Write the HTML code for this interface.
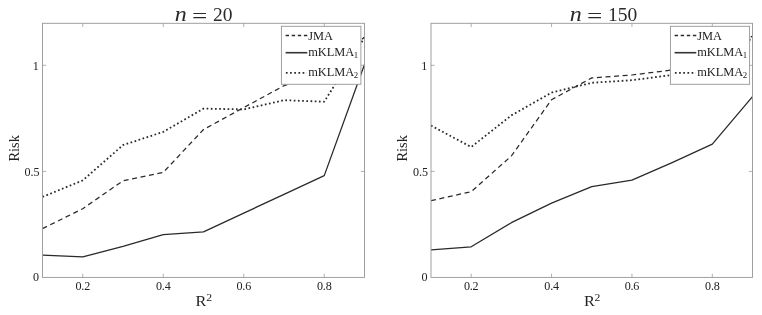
<!DOCTYPE html>
<html lang="en"><head><meta charset="utf-8"><title>Risk vs R2</title>
<style>html,body{margin:0;padding:0;background:#fff}svg{display:block}</style></head>
<body>
<svg width="762" height="315" viewBox="0 0 762 315" font-family="'Liberation Serif', serif" fill="#222">
<rect width="762" height="315" fill="#fff"/>
<clipPath id="c20"><rect x="42.5" y="23.3" width="322.0" height="254.09999999999997"/></clipPath>
<g clip-path="url(#c20)" fill="none" stroke="#2a2a2a" stroke-linejoin="round">
<polyline points="42.50,228.60 82.75,208.70 123.00,180.80 163.25,172.40 203.50,129.50 243.75,107.60 284.00,85.70 324.25,73.00 364.50,37.00" stroke-width="1.25" stroke-dasharray="5 3.6"/>
<polyline points="42.50,196.90 82.75,180.40 123.00,145.10 163.25,131.90 203.50,108.60 243.75,109.40 284.00,100.20 324.25,101.70 364.50,37.50" stroke-width="1.8" stroke-dasharray="1.7 2.5"/>
<polyline points="42.50,255.20 82.75,256.90 123.00,246.40 163.25,234.60 203.50,231.90 243.75,213.10 284.00,194.40 324.25,175.60 364.50,64.50" stroke-width="1.3"/>
</g>
<rect x="42.5" y="23.3" width="322.0" height="254.09999999999997" fill="none" stroke="#969696" stroke-width="0.9"/>
<path d="M82.75 277.4v-3.7M82.75 23.3v3.7M163.25 277.4v-3.7M163.25 23.3v3.7M243.75 277.4v-3.7M243.75 23.3v3.7M324.25 277.4v-3.7M324.25 23.3v3.7M42.5 65.3h3.7M364.5 65.3h-3.7M42.5 171.4h3.7M364.5 171.4h-3.7" stroke="#969696" stroke-width="0.75" fill="none"/>
<g font-size="12.1">
<text x="82.75" y="290" text-anchor="middle" letter-spacing="-0.2">0.2</text>
<text x="163.25" y="290" text-anchor="middle" letter-spacing="-0.2">0.4</text>
<text x="243.75" y="290" text-anchor="middle" letter-spacing="-0.2">0.6</text>
<text x="324.25" y="290" text-anchor="middle" letter-spacing="-0.2">0.8</text>
<text x="39.1" y="281.4" text-anchor="end">0</text>
<text x="39.5" y="175.6" text-anchor="end">0.5</text>
<text x="38.9" y="69.7" text-anchor="end">1</text>
</g>
<text transform="translate(195.6 306.1) scale(1.1 1)" font-size="14.8">R<tspan font-size="10.6" dy="-5.0" dx="-0.2">2</tspan></text>
<text transform="translate(18.6 161.5) rotate(-90)" font-size="14.4">Risk</text>
<g font-size="20" fill="#2a2a2a"><text transform="translate(174.8 21.3) scale(1.2 1)" font-style="italic">n</text><text transform="translate(191.9 22.9) scale(1.36 1)">=</text><text x="212.9" y="21.3" font-size="19.5">20</text></g>
<rect x="281.4" y="26.3" width="79.5" height="58" fill="#fff" stroke="#969696" stroke-width="0.9"/>
<g fill="none" stroke="#2a2a2a">
<path d="M285.6 35.6h21.7" stroke-width="1.5" stroke-dasharray="3.4 2.7"/>
<path d="M285.6 52.7h21.7" stroke-width="1.6" stroke="#333"/>
<path d="M285.9 72.8h21" stroke-width="1.8" stroke-dasharray="1.7 2.48"/>
</g>
<g font-size="12.4">
<text x="308.2" y="39.7">JMA</text>
<text x="308.2" y="56.1">mKLMA<tspan font-size="8.8" dy="1.5" dx="-0.6">1</tspan></text>
<text x="308.2" y="76.3">mKLMA<tspan font-size="8.8" dy="1.5" dx="-0.6">2</tspan></text>
</g>
<clipPath id="c150"><rect x="431.0" y="23.3" width="321.5" height="254.09999999999997"/></clipPath>
<g clip-path="url(#c150)" fill="none" stroke="#2a2a2a" stroke-linejoin="round">
<polyline points="431.00,200.70 471.19,191.70 511.38,156.00 551.56,99.70 591.75,77.90 631.94,75.00 672.12,70.00 712.31,65.00 752.50,36.00" stroke-width="1.25" stroke-dasharray="5 3.6"/>
<polyline points="431.00,125.60 471.19,147.00 511.38,115.40 551.56,92.60 591.75,82.80 631.94,80.20 672.12,75.00 712.31,70.00 752.50,37.50" stroke-width="1.8" stroke-dasharray="1.7 2.5"/>
<polyline points="431.00,249.80 471.19,246.80 511.38,222.70 551.56,203.20 591.75,186.70 631.94,180.20 672.12,162.60 712.31,144.20 752.50,96.60" stroke-width="1.3"/>
</g>
<rect x="431.0" y="23.3" width="321.5" height="254.09999999999997" fill="none" stroke="#969696" stroke-width="0.9"/>
<path d="M471.19 277.4v-3.7M471.19 23.3v3.7M551.56 277.4v-3.7M551.56 23.3v3.7M631.94 277.4v-3.7M631.94 23.3v3.7M712.31 277.4v-3.7M712.31 23.3v3.7M431.0 65.3h3.7M752.5 65.3h-3.7M431.0 171.4h3.7M752.5 171.4h-3.7" stroke="#969696" stroke-width="0.75" fill="none"/>
<g font-size="12.1">
<text x="471.19" y="290" text-anchor="middle" letter-spacing="-0.2">0.2</text>
<text x="551.56" y="290" text-anchor="middle" letter-spacing="-0.2">0.4</text>
<text x="631.94" y="290" text-anchor="middle" letter-spacing="-0.2">0.6</text>
<text x="712.31" y="290" text-anchor="middle" letter-spacing="-0.2">0.8</text>
<text x="427.6" y="281.4" text-anchor="end">0</text>
<text x="428.0" y="175.6" text-anchor="end">0.5</text>
<text x="427.4" y="69.7" text-anchor="end">1</text>
</g>
<text transform="translate(583.9 306.1) scale(1.1 1)" font-size="14.8">R<tspan font-size="10.6" dy="-5.0" dx="-0.2">2</tspan></text>
<text transform="translate(407.1 161.5) rotate(-90)" font-size="14.4">Risk</text>
<g font-size="20" fill="#2a2a2a"><text transform="translate(569.8 21.3) scale(1.2 1)" font-style="italic">n</text><text transform="translate(586.9 22.9) scale(1.36 1)">=</text><text x="607.9" y="21.3" font-size="19.5">150</text></g>
<rect x="670.4" y="26.3" width="79.2" height="58" fill="#fff" stroke="#969696" stroke-width="0.9"/>
<g fill="none" stroke="#2a2a2a">
<path d="M674.6 35.6h21.7" stroke-width="1.5" stroke-dasharray="3.4 2.7"/>
<path d="M674.6 52.7h21.7" stroke-width="1.6" stroke="#333"/>
<path d="M674.9 72.8h21" stroke-width="1.8" stroke-dasharray="1.7 2.48"/>
</g>
<g font-size="12.4">
<text x="697.2" y="39.7">JMA</text>
<text x="697.2" y="56.1">mKLMA<tspan font-size="8.8" dy="1.5" dx="-0.6">1</tspan></text>
<text x="697.2" y="76.3">mKLMA<tspan font-size="8.8" dy="1.5" dx="-0.6">2</tspan></text>
</g>
</svg>
</body></html>
